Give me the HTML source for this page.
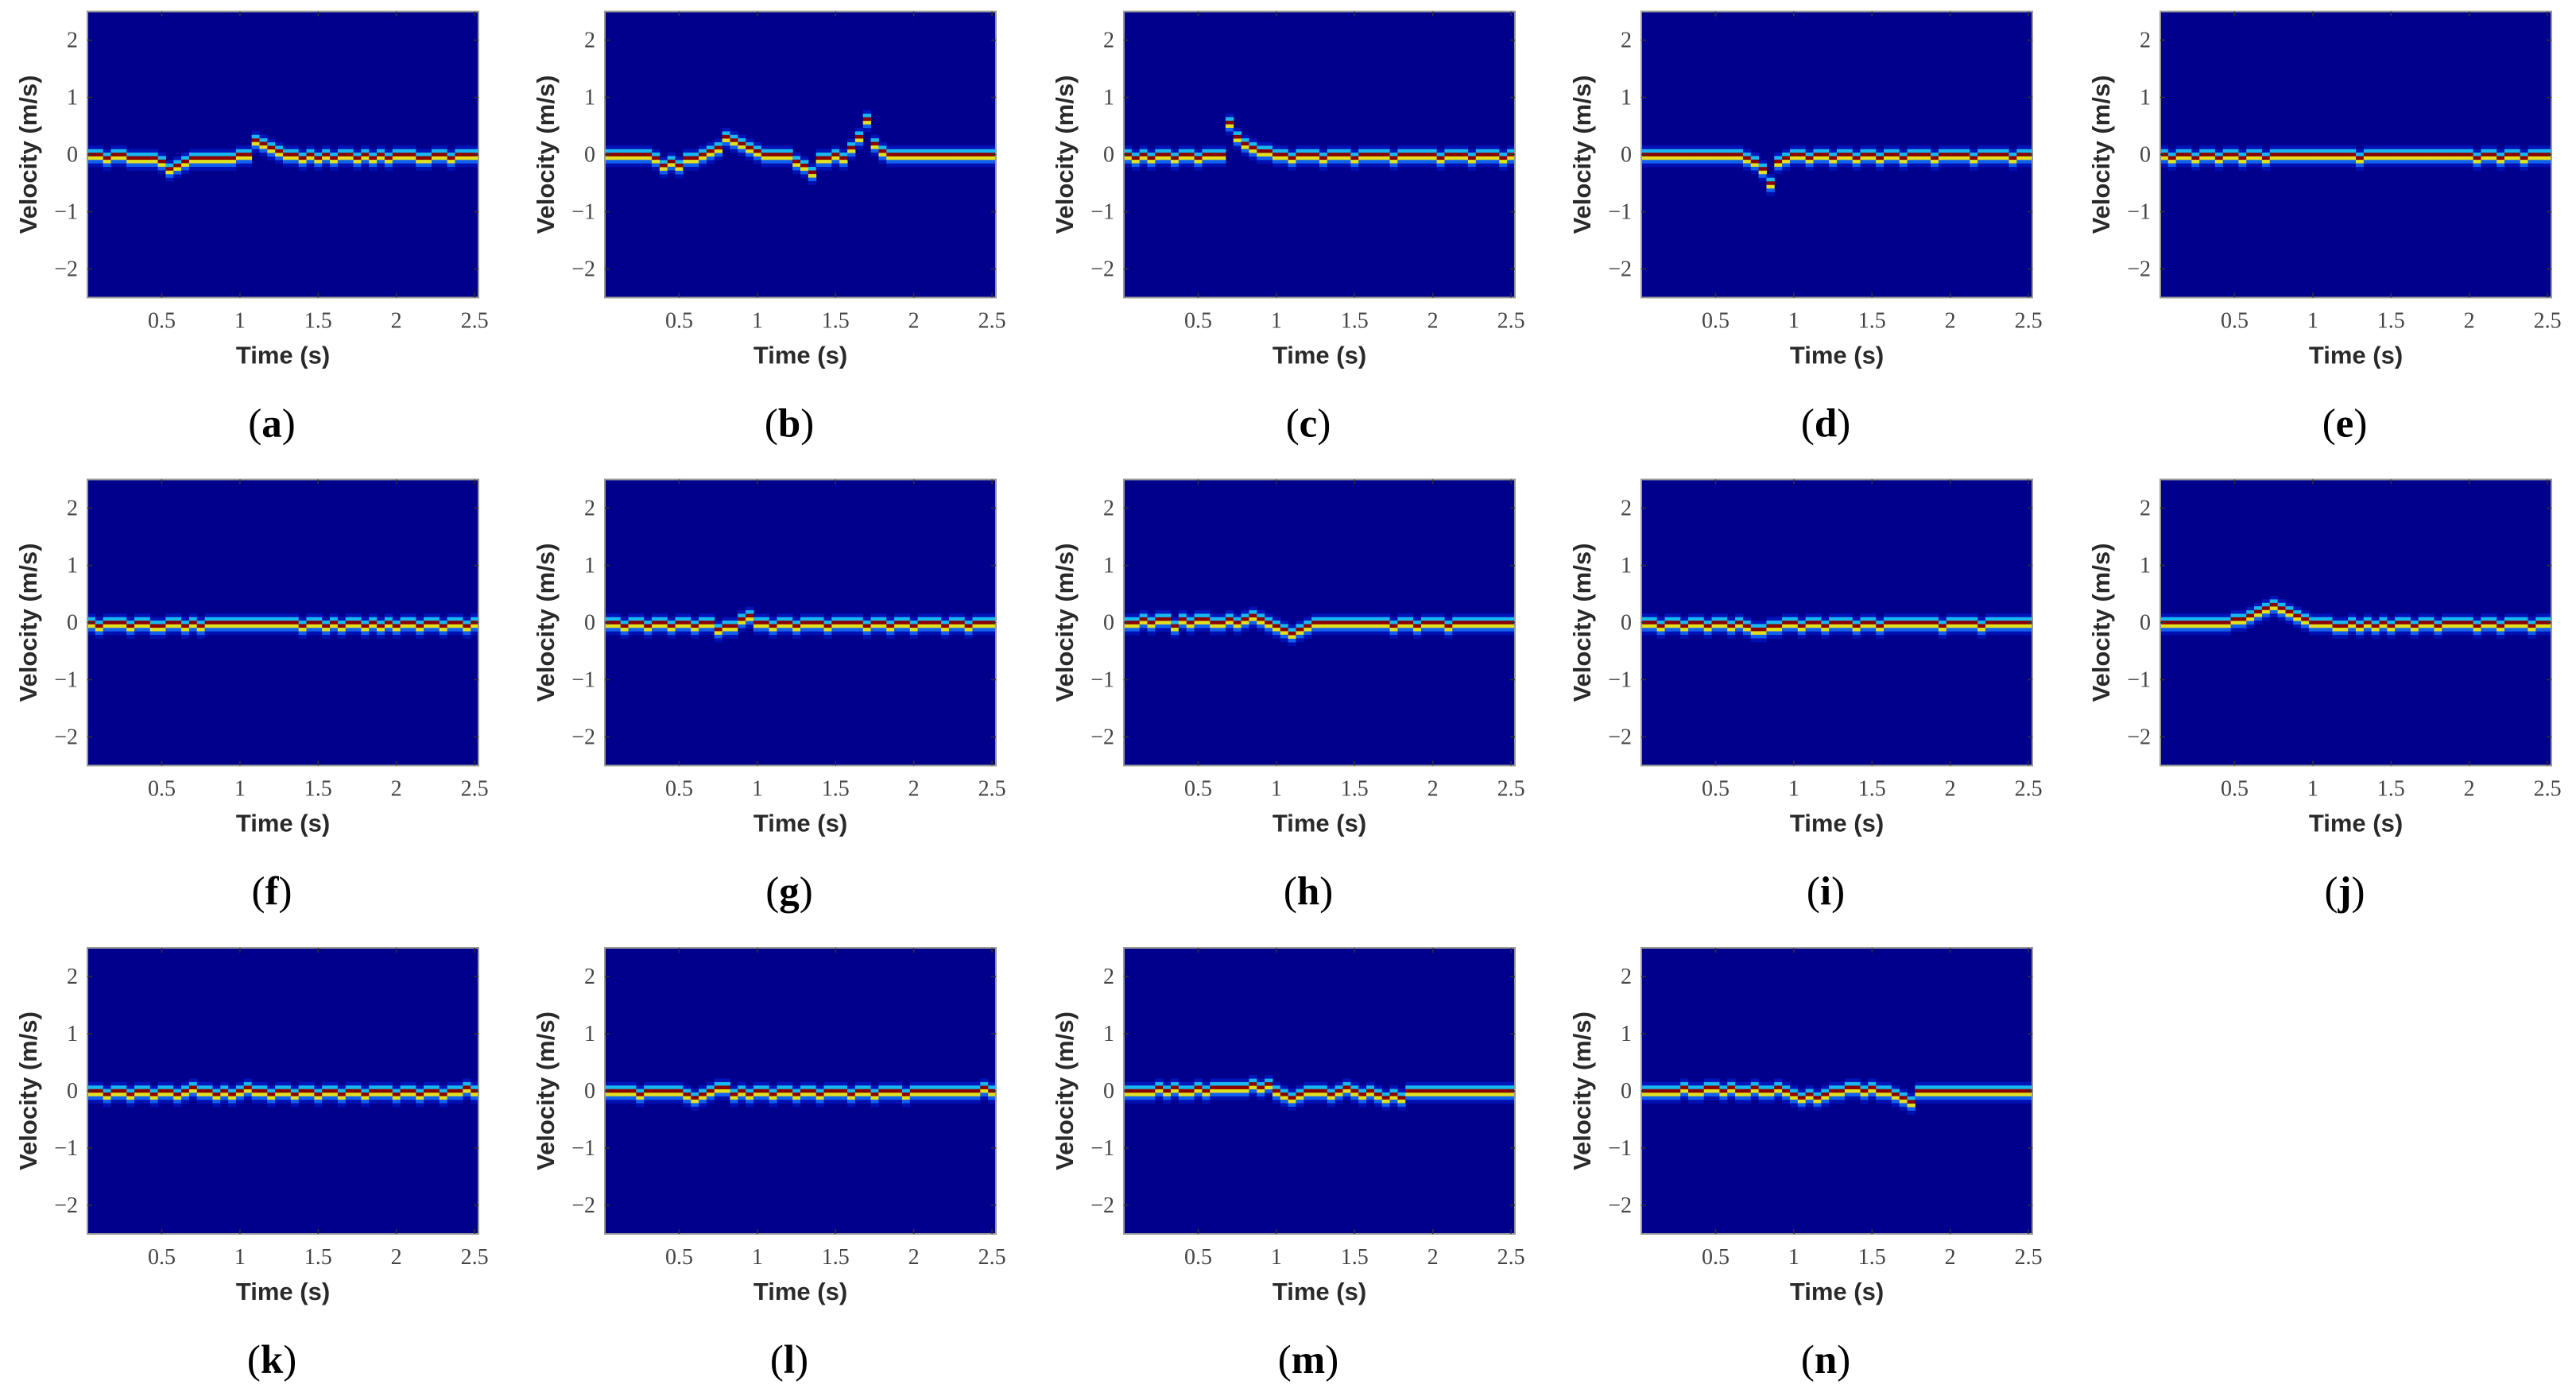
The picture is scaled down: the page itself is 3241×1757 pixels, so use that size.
<!DOCTYPE html>
<html><head><meta charset="utf-8"><style>
html,body{margin:0;padding:0;background:#fff;}
svg{display:block;}
.tk{font-family:"Liberation Serif",serif;font-size:28px;fill:#444;}
.al{font-family:"Liberation Sans",sans-serif;font-size:31px;font-weight:bold;fill:#2a2a2a;}
.sl{font-family:"Liberation Serif",serif;font-size:51px;fill:#000;}
</style></head><body>
<svg id="fig" width="3241" height="1757" viewBox="0 0 3241 1757" xmlns="http://www.w3.org/2000/svg"></svg>
<script>
// Time bins (s), 0.05 .. 2.50
const timeBins = [0.05,0.10,0.15,0.20,0.25,0.30,0.35,0.40,0.45,0.50,0.55,0.60,0.65,0.70,0.75,0.80,0.85,0.90,0.95,1.00,1.05,1.10,1.15,1.20,1.25,1.30,1.35,1.40,1.45,1.50,1.55,1.60,1.65,1.70,1.75,1.80,1.85,1.90,1.95,2.00,2.05,2.10,2.15,2.20,2.25,2.30,2.35,2.40,2.45,2.50];
const panelLabels = ["a","b","c","d","e","f","g","h","i","j","k","l","m","n"];
const xTicks = [0.5,1,1.5,2,2.5];
const xTickLabels = ["0.5","1","1.5","2","2.5"];
const yTicks = [-2,-1,0,1,2];
const yTickLabels = ["\u22122","\u22121","0","1","2"];
// Dominant velocity (m/s) per time bin, one array per panel
const velA = [0,0,-0.06,0,0,-0.06,-0.06,-0.06,-0.06,-0.12,-0.25,-0.19,-0.12,-0.06,-0.06,-0.06,-0.06,-0.06,-0.06,0,0,0.25,0.19,0.12,0.06,0,0,-0.06,0,-0.06,0,-0.06,0,0,-0.06,0,-0.06,0,-0.06,0,0,0,-0.06,-0.06,0,0,-0.06,0,0,0];
const velB = [0,0,0,0,0,0,-0.06,-0.19,-0.12,-0.19,-0.06,-0.06,0,0.06,0.12,0.31,0.25,0.19,0.12,0.06,0,0,0,0,-0.12,-0.19,-0.31,-0.06,-0.06,0,-0.06,0.12,0.31,0.62,0.19,0.06,0,0,0,0,0,0,0,0,0,0,0,0,0,0];
const velC = [0,-0.06,0,-0.06,0,0,-0.06,0,0,-0.06,0,0,0,0.56,0.31,0.19,0.12,0.06,0.06,0,0,-0.06,0,0,0,-0.06,0,0,0,-0.06,0,0,0,0,-0.06,0,0,0,0,0,-0.06,0,0,0,-0.06,0,0,0,-0.06,0];
const velD = [0,0,0,0,0,0,0,0,0,0,0,0,0,-0.06,-0.12,-0.25,-0.5,-0.12,-0.06,0,0,-0.06,0,0,-0.06,0,0,-0.06,0,0,-0.06,0,0,-0.06,0,0,0,-0.06,0,0,0,0,-0.06,0,0,0,0,-0.06,0,0];
const velE = [0,-0.06,0,0,-0.06,0,0,-0.06,0,0,-0.06,0,0,-0.06,0,0,0,0,0,0,0,0,0,0,0,-0.06,0,0,0,0,0,0,0,0,0,0,0,0,0,0,-0.06,0,0,-0.06,0,0,-0.06,0,0,0];
const velF = [0,-0.06,0,0,0,-0.06,0,0,-0.06,-0.06,0,0,-0.06,0,-0.06,0,0,0,0,0,0,0,0,0,0,0,0,-0.06,0,0,-0.06,0,-0.06,0,0,-0.06,0,-0.06,0,-0.06,0,0,-0.06,0,0,-0.06,0,0,-0.06,0];
const velG = [0,0,-0.06,0,0,-0.06,0,0,-0.06,0,0,-0.06,0,0,-0.12,-0.06,-0.06,0.06,0.12,0,0,-0.06,0,0,-0.06,0,0,0,-0.06,0,0,0,0,-0.06,0,0,-0.06,0,0,-0.06,0,0,0,-0.06,0,0,-0.06,0,0,0];
const velH = [0,0,0.06,0,0.06,0.06,-0.06,0.06,0,0.06,0.06,0,0,0.06,0,0.06,0.12,0.06,0,-0.06,-0.12,-0.19,-0.12,-0.06,0,0,0,0,0,0,0,0,0,0,-0.06,0,0,-0.06,0,0,0,-0.06,0,0,0,0,0,0,0,0];
const velI = [0,0,-0.06,0,0,-0.06,0,0,-0.06,0,0,-0.06,0,-0.06,-0.12,-0.12,-0.06,-0.06,0,0,-0.06,0,0,-0.06,0,0,0,-0.06,0,0,-0.06,0,0,0,0,0,0,0,-0.06,0,0,0,0,-0.06,0,0,0,0,0,0];
const velJ = [0,0,0,0,0,0,0,0,0,0.06,0.06,0.12,0.19,0.25,0.31,0.25,0.19,0.12,0.06,0,0,0,-0.06,-0.06,0,-0.06,0,-0.06,0,-0.06,0,0,-0.06,0,0,-0.06,0,0,0,0,-0.06,0,0,-0.06,0,0,0,-0.06,0,0];
const velK = [0,0,-0.06,0,0,-0.06,0,0,-0.06,0,0,-0.06,0,0.06,0,0,-0.06,0,-0.06,0,0.06,0,0,-0.06,0,0,-0.06,0,0,-0.06,0,0,-0.06,0,0,-0.06,0,0,0,-0.06,0,0,-0.06,0,0,-0.06,0,0,0.06,0];
const velL = [0,0,0,0,-0.06,0,0,0,0,0,-0.06,-0.12,-0.06,0,0.06,0.06,-0.06,0,-0.06,0,0,-0.06,0,0,-0.06,0,0,-0.06,0,0,0,-0.06,0,0,-0.06,0,0,0,-0.06,0,0,0,0,0,0,0,0,0,0.06,0];
const velM = [0,0,0,0,0.06,0,0.06,0,0,0.06,0,0.06,0.06,0.06,0.06,0.06,0.12,0.06,0.12,0,-0.06,-0.12,-0.06,0,0,0,-0.06,0,0.06,0,-0.06,0,-0.06,-0.12,-0.06,-0.12,0,0,0,0,0,0,0,0,0,0,0,0,0,0];
const velN = [0,0,0,0,0,0.06,0,0,0.06,0.06,0,0.06,0,0,0.06,0,0,0.06,0,-0.06,-0.12,-0.06,-0.12,-0.06,0,0,0.06,0.06,0,0.06,0,0,-0.06,-0.12,-0.19,0,0,0,0,0,0,0,0,0,0,0,0,0,0,0];
const panelVels = [velA,velB,velC,velD,velE,velF,velG,velH,velI,velJ,velK,velL,velM,velN];

const NS="http://www.w3.org/2000/svg";
const svg=document.getElementById('fig');
const colLeft=[110,761,1414,2065,2718], rowTop=[14.5,603.5,1193];
const W=492,H=360, XMIN=0.025,XMAX=2.525,YMIN=-2.5,YMAX=2.5, DV=0.0625, DT=0.05;
const bandColors=[[2,'#0014b8'],[1,'#18b8f0'],[0,'#8a0000'],[-1,'#e0e020'],[-2,'#1060f0'],[-3,'#0010b0']];
function mk(tag,attrs,parent){const e=document.createElementNS(NS,tag);for(const k in attrs)e.setAttribute(k,attrs[k]);(parent||svg).appendChild(e);return e;}

panelVels.forEach((vel,p)=>{
  const L=colLeft[p%5], T=rowTop[Math.floor(p/5)];
  const sx=t=>L+(t-XMIN)/(XMAX-XMIN)*W;
  const sy=v=>T+(YMAX-v)/(YMAX-YMIN)*H;
  const g=mk('g',{});
  
  
  const bg=mk('rect',{x:L,y:T,width:W,height:H,fill:'#00008c'},g);
  
  
  vel.forEach((v,i)=>{
    const t=timeBins[i];
    bandColors.forEach(([o,c])=>{
      const vc=v+o*DV;
      const r=mk('rect',{x:sx(t-DT/2),y:sy(vc+DV/2),width:sx(t+DT/2)-sx(t-DT/2)+0.5,height:sy(vc-DV/2)-sy(vc+DV/2)+0.3,fill:c},g);
      
      
    });
  });
  mk('rect',{x:L,y:T,width:W,height:H,fill:'none',stroke:'#999','stroke-width':2},g);
  xTicks.forEach((xv,k)=>{
    const x=sx(xv);
    mk('line',{x1:x,y1:T+H,x2:x,y2:T+H-6,stroke:'#333','stroke-width':1.5},g);
    mk('line',{x1:x,y1:T,x2:x,y2:T+6,stroke:'#333','stroke-width':1.5},g);
    const tl=mk('text',{x:x,y:T+H+38,'text-anchor':'middle',class:'tk'},g);
    tl.textContent=xTickLabels[k];
    
    
  });
  yTicks.forEach((yv,k)=>{
    const y=sy(yv);
    mk('line',{x1:L,y1:y,x2:L+6,y2:y,stroke:'#333','stroke-width':1.5},g);
    mk('line',{x1:L+W,y1:y,x2:L+W-6,y2:y,stroke:'#333','stroke-width':1.5},g);
    const tl=mk('text',{x:L-12,y:y+9,'text-anchor':'end',class:'tk'},g);
    tl.textContent=yTickLabels[k];
    
    
  });
  const xt=mk('text',{x:L+W/2,y:T+H+83,'text-anchor':'middle',class:'al'},g);
  xt.textContent='Time (s)';
  
  
  const yt=mk('text',{x:0,y:0,'text-anchor':'middle',class:'al',transform:`translate(${L-64},${T+H/2}) rotate(-90)`},g);
  yt.textContent='Velocity (m/s)';
  
  
  const sl=mk('text',{x:L+W/2-14,y:T+H+175,'text-anchor':'middle',class:'sl'},g);
  sl.innerHTML='(<tspan font-weight="bold">'+panelLabels[p]+'</tspan>)';
  
  
});
</script>
</body></html>
